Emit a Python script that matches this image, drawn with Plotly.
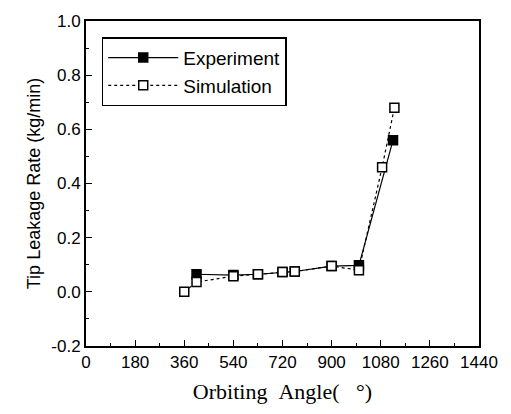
import plotly.graph_objects as go

exp_angle = [405, 540, 630, 720, 765, 900, 1000, 1125]
exp_rate = [0.065, 0.062, 0.065, 0.073, 0.075, 0.095, 0.098, 0.56]
sim_angle = [360, 405, 540, 630, 720, 765, 900, 1000, 1085, 1130]
sim_rate = [0.0, 0.036, 0.058, 0.065, 0.073, 0.075, 0.095, 0.08, 0.46, 0.68]
x_ticks = [0, 180, 360, 540, 720, 900, 1080, 1260, 1440]
y_ticks = [-0.2, 0.0, 0.2, 0.4, 0.6, 0.8, 1.0]

fig = go.Figure()
fig.add_trace(go.Scatter(
    x=exp_angle, y=exp_rate, mode="lines+markers", name="Experiment",
    line=dict(color="black", width=1.2),
    marker=dict(symbol="square", size=9, color="black", line=dict(color="black", width=1.5)),
))
fig.add_trace(go.Scatter(
    x=sim_angle, y=sim_rate, mode="lines+markers", name="Simulation",
    line=dict(color="black", width=1.2, dash="dot"),
    marker=dict(symbol="square", size=9, color="white", line=dict(color="black", width=1.5)),
))

sans = "Liberation Sans, Arial, sans-serif"
axis_font = dict(family=sans, size=17, color="black")
fig.update_layout(
    width=511, height=414,
    margin=dict(l=86, r=32, t=15, b=68),
    paper_bgcolor="white", plot_bgcolor="white",
    showlegend=True,
    legend=dict(
        x=0.04, y=0.95, xanchor="left", yanchor="top",
        bordercolor="black", borderwidth=1.5, bgcolor="white",
        font=dict(family=sans, size=19, color="black"),
        tracegroupgap=0, itemwidth=70,
    ),
    xaxis=dict(
        range=[0, 1440], tickvals=x_ticks, ticktext=[str(v) for v in x_ticks],
        ticks="inside", ticklen=6, tickwidth=1.2, tickcolor="black",
        minor=dict(dtick=90, ticks="inside", ticklen=3, tickcolor="black"),
        showline=True, linecolor="black", linewidth=2, mirror=True,
        showgrid=False, zeroline=False, tickfont=axis_font,
        title=dict(text="Orbiting\u00a0\u00a0Angle(\u00a0\u00a0\u00a0°)", standoff=12,
                   font=dict(family="Liberation Serif, Times New Roman, serif", size=22, color="black")),
    ),
    yaxis=dict(
        range=[-0.2, 1.0], tickvals=y_ticks, ticktext=["%.1f" % v for v in y_ticks],
        ticks="inside", ticklen=6, tickwidth=1.2, tickcolor="black",
        minor=dict(dtick=0.1, ticks="inside", ticklen=3, tickcolor="black"),
        showline=True, linecolor="black", linewidth=2, mirror=True,
        showgrid=False, zeroline=False, tickfont=axis_font,
        title=dict(text="Tip Leakage Rate (kg/min)", standoff=6,
                   font=dict(family=sans, size=18, color="black")),
    ),
)

fig.write_html("out.html")
